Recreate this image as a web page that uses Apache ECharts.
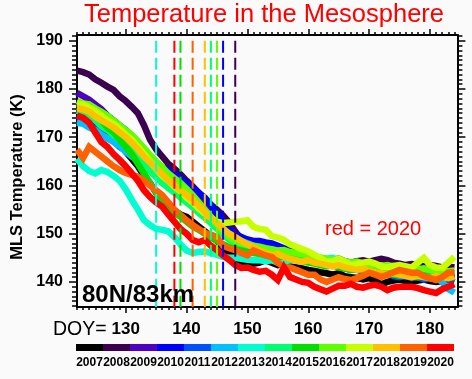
<!DOCTYPE html>
<html><head><meta charset="utf-8">
<script src="https://cdn.jsdelivr.net/npm/echarts@6/dist/echarts.min.js"></script>
<style>html,body{margin:0;padding:0;background:#fafafa}#c{width:472px;height:379px}</style>
</head><body><div id="c"></div>
<script>
// ---- data ----
const firstDOY = 122;
const years = ['2007','2008','2009','2010','2011','2012','2013','2014','2015','2016','2017','2018','2019','2020'];
const yearColors = ['#000000','#3c0050','#5000c0','#0000ff','#0050ff','#00c0ff','#00ffd0','#00ff70','#00e000','#60ff00','#c8ff00','#ffc000','#ff6000','#ff0000'];
const xTickLabels = [130,140,150,160,170,180];
const yTickLabels = [140,150,160,170,180,190];

const t2007 = [175,174.5,174,173,172,171,170,168.5,167,165.5, 164,162,160.5,158.5,156.5,155.2,154.8,154,153.5,152.5, 151.5,150.5,149.5,148.5,147,146,145,144.2,144,143.8, 144,144.5,144,143.5,143.8,143.2,143,142.8,142.5,142.3, 142,141.8,141.5,141.8,141.2,141,140.8,140.5,140.8,140.2, 139.5,140,140.3,140.5,140.2,140,140.3,140.5,140.2,140, 140.2,140.5,140.3];
const t2008 = [183.8,183.5,183,182,181.3,180.5,179.8,178.5,177.5,176.3, 175,172.5,169.5,167.5,166,164.5,163.5,162.3,161,159.8, 158.5,157,156,155,153.8,152.3,150.5,148.7,148.3,147.8, 147.3,146.8,146.5,146.3,146,145.8,146,145.5,145.2,145, 144.8,144.5,144.5,144.8,144.3,144,144.3,144.5,144.2,144.5, 144.8,144.5,144,143.8,143.5,143.7,143.5,143.2,143.5,143.3, 143,143.2,143];
const t2009 = [179.2,178.5,177.8,176.8,175.8,174.5,173.5,172.5,171.5,170.3, 169,167.5,166,164.8,163.8,163,162,160.8,159.8,158.5, 157,155.8,154.5,153,151.5,150.2,149.5,148.8,148.3,148, 147.5,147.2,147,146.8,146.5,146,145.8,145.5,145,144.8, 144.5,144.3,144,143.8,143.5,143.6,143.2,143,143.3,143, 142.8,142.5,142.8,142.5,142.3,142,142.3,142,141.8,142, 141.8,141.5,141.8];
const t2010 = [174.5,174,173.8,173,172.5,171.5,170.8,170,169,168, 167,166,164.5,164,163.6,163.2,162.5,161.5,160.5,159.5, 158.5,157.5,156,154.3,152.5,151,150,149.3,148.8,148.5, 148.5,148.2,148,147.5,147,146.5,146,145.5,145.2,144.8, 144.5,144,143.5,143.2,143,142.8,142.5,142.2,142,141.8, 141.5,141.8,141.5,141.2,141,141.3,141,140.8,141,140.8, 140.5,140.8,140.5];
const t2011 = [173.5,173.2,172.3,171.8,171,169.8,169.2,168,167.2,166.1, 165.2,163.8,163,162.3,161,160.2,159.3,158,157.2,156.2, 155,154.2,153,151.8,150.5,149.6,148.8,148.3,147.6,147.3, 147,146.5,146.8,146.2,145.8,145.5,145.7,145,144.8,144.5, 144.2,143.8,143.5,143,142.8,142.5,142.7,142.2,142,141.8, 141.5,141.8,141.2,141,141.3,140.8,141,140.5,140.8,140.5, 140.3,140.5,140];
const t2012 = [173,172.8,172,171.5,170.5,169.8,169,168.2,167,166, 165,164.2,163.2,162.5,161.5,160.3,159.5,158.3,157.5,156.5, 155.5,154.3,153.2,152,151,150,149.2,148.5,148,147.5, 147,146.6,146.2,146,145.5,145.2,145,144.5,144.3,144.5, 144,143.8,144,143.5,143.2,143,143.3,142.8,142.5,142.8, 142.5,142.2,142,141.8,141.5,141.8,141.3,141,141.2,140.8, 140,138.5,137.8];
const t2013 = [165.5,164,163,162.5,163.2,162.8,162,161,159.2,157, 155,152.8,151.8,151,150.8,150.5,149.3,147.8,146.5,146, 146.2,146.3,146,145.6,145.2,145,145,144.8,144.6,144.5, 144.5,144.3,144.5,144,144.2,144.5,144.8,145,145.2,145, 145,144.8,145,144.5,144.3,144,143.8,143.5,143.8,143.5, 143.2,143,143.3,143,142.8,142.5,142.8,142.5,142.3,142, 142.2,142,141.8];
const t2014 = [175.5,175,174.2,173.5,172.3,171.5,170.5,169.5,168.3,167, 165.8,164.5,163,161.8,160.5,159.5,158.5,157.5,156.5,155.5, 154.3,153.3,152.2,151,149.8,148.8,148,147.5,147,146.8, 146.5,146.3,146,145.8,145.5,145.5,145.2,145,144.8,144.5, 144.2,144,144.3,143.8,143.5,143.6,143.2,143,143.3,143, 142.8,142.5,142.8,142.5,142.3,142.5,142.2,142,142.3,142, 141.8,142,141.8];
const t2015 = [176.3,176,175.5,174.5,173.5,172,171,169.5,168,166.5, 164.5,162.5,160.5,158.5,156,154.5,154.3,153.5,152.5,151.5, 150.8,150,149.2,148.5,147.8,147.2,146.8,146.5,146.2,146, 145.8,145.5,145.2,145,145.3,144.8,144.5,144.3,144,143.8, 143.5,143.2,143.5,143,142.8,142.5,142.8,142.5,142.2,142, 141.8,142,141.5,141.3,141.5,141.2,141,141.3,141,140.8, 141,140.8,141];
const t2016 = [177.5,177,176.8,176,175.3,174.5,173.5,172.5,171.5,170.5, 169.2,167.8,166.3,165,163.8,162.5,161.5,160.5,159.3,158, 156.5,155,153.5,152,150.5,149.3,148.5,148,147.8,147.5, 147.3,147,146.8,146.5,146.6,146.2,146,145.8,145.5,145.3, 145,144.8,144.5,144.8,144.3,144,144.2,143.8,143.6,143.5, 143.3,143.5,143.2,143,143.2,142.8,142.6,142.8,142.5,142.3, 142.5,142.2,142.4];
const t2017 = [177,176.8,176.2,175.5,174.5,173.5,172.8,171.8,170.5,169.5, 168,166.5,165,163.5,162,161,159.8,158.8,157.5,156.5, 155.2,154.2,153.3,152.5,152.2,152.3,152.5,152.6,152.8,151.4, 151,150.8,149.5,149.2,148.7,147.8,147.3,146.8,146.3,145.6, 145,144.2,144.3,144.8,144.2,143.5,143.8,144,144.2,143.8, 143.2,143,143.3,143.5,143.2,143,144,145,143.5,143, 142.9,144,145.2];
const t2018 = [176,175.8,175.3,174.3,173.5,172.8,172,171,170,168.8, 167.5,166,164.8,163.5,162.3,161,160,159,158,157, 155.8,154.5,153.3,152.2,151,150,149.3,148.5,147.8,147.2, 146.5,146,145.6,145.8,145.2,144.8,144.5,144.2,144.5,144, 143.8,143.5,143.2,143.5,143,142.8,142.5,142.7,142.3,142, 141.8,141.5,141.8,141.5,141.2,141,141.3,141,140.8,141.2, 141,140.8,141.2];
const t2019 = [167.4,165.7,168,167,166,165,164,163.2,162.6,162.2, 161.8,161,160,159,158,156.5,155,153.9,152.8,151.8, 151,150.2,149.8,149.3,147.5,147,146.6,146,145.5,146.5, 146,145.5,145.2,144,143.1,143,142.5,142,141.5,141.5, 140.5,140,140.5,141,140.6,140.4,140.8,141.3,141.9,141.5, 141,141.5,142,142.5,142.2,141.9,141.9,141.2,140.8,140.4, 141,141.9,142];
const t2020 = [174.5,174,173,171,169,168,166.5,165.3,164,162.5, 161,159,157.6,156.5,155.6,154,152.5,151,150,148.7, 148.2,148.7,147.5,146.6,145.5,144.6,143.5,142.9,143,142.5, 142.1,142.3,141.5,140.4,143,141,140.5,140,139.8,139, 138.5,138,138.6,139.2,139.2,139.6,139,138.8,139.2,139.4, 139,138.3,138.8,139,139,139,138.7,138.3,138,137.7, 138.5,139,139.5];

// vertical dashed markers: year and DOY
const markerYears = ['2013','2020','2015','2019','2018','2014','2016','2010','2008'];
const markerDOY   = [135,138,139,141,143,144,145,146,148];

// ---- chart ----
const allSeries = [t2007,t2008,t2009,t2010,t2011,t2012,t2013,t2014,t2015,t2016,t2017,t2018,t2019,t2020];
const XMIN = 122, XMAX = 184.5, YMIN = 134.8, YMAX = 191.2;
const FONT = 'Liberation Sans, Arial, Helvetica, sans-serif';
const minorX = []; for (let d = 122; d <= 184; d++) minorX.push(d);
const minorY = []; for (let t = 135; t <= 191; t++) minorY.push(t);

const series = [];
allSeries.forEach((arr, k) => {
  series.push({
    type: 'line', xAxisIndex: 0, yAxisIndex: 0, name: years[k],
    data: arr.map((v, i) => [firstDOY + i, v]),
    showSymbol: false, symbol: 'none', silent: true,
    lineStyle: { color: yearColors[k], width: 6.5, join: 'miter' },
    z: 3 + k
  });
});
markerDOY.forEach((d, k) => {
  const ci = years.indexOf(markerYears[k]);
  series.push({
    type: 'line', xAxisIndex: 0, yAxisIndex: 0,
    data: [[d, 190], [d, YMIN]], showSymbol: false, symbol: 'none', silent: true,
    lineStyle: { color: yearColors[ci], width: 2, type: [12, 5] }, z: 30
  });
});
// colorbar as a bar series over a category axis of years
series.push({
  type: 'bar', xAxisIndex: 4, yAxisIndex: 4, barCategoryGap: 0, silent: true,
  data: years.map((y, k) => ({ value: 1, itemStyle: { color: yearColors[k] } }))
});

function xAx(pos, major, showLabel) {
  return {
    type: 'value', gridIndex: 0, position: pos, min: XMIN, max: XMAX,
    axisLine: { show: major, onZero: false, lineStyle: { color: '#000', width: 2 } },
    axisTick: { show: true, inside: false, length: major ? 6 : 3, customValues: major ? xTickLabels : minorX, lineStyle: { color: '#000', width: 1.5 } },
    axisLabel: { show: showLabel, customValues: xTickLabels, margin: 14, fontSize: 17, fontWeight: 'bold', color: '#000', fontFamily: FONT },
    splitLine: { show: false }
  };
}
function yAx(pos, major, showLabel) {
  return {
    type: 'value', gridIndex: 0, position: pos, min: YMIN, max: YMAX,
    axisLine: { show: major, onZero: false, lineStyle: { color: '#000', width: 2 } },
    axisTick: { show: true, inside: false, length: major ? 8 : 5, customValues: major ? yTickLabels : minorY, lineStyle: { color: '#000', width: 1.5 } },
    axisLabel: { show: showLabel, customValues: yTickLabels, margin: 14, fontSize: 16, fontWeight: 'bold', color: '#000', fontFamily: FONT },
    splitLine: { show: false }
  };
}

const option = {
  backgroundColor: '#fafafa',
  animation: false,
  grid: [
    { left: 77, top: 35, width: 380.4, height: 272, containLabel: false },
    { left: 76, top: 344, width: 378, height: 7, containLabel: false }
  ],
  xAxis: [
    xAx('bottom', true, true), xAx('bottom', false, false), xAx('top', true, false), xAx('top', false, false),
    { type: 'category', gridIndex: 1, data: years, axisLine: { show: false }, axisTick: { show: false },
      axisLabel: { interval: 0, margin: 6, fontSize: 12, fontWeight: 'bold', color: '#000', fontFamily: FONT } }
  ],
  yAxis: [
    yAx('left', true, true), yAx('left', false, false), yAx('right', true, false), yAx('right', false, false),
    { type: 'value', gridIndex: 1, min: 0, max: 1, show: false }
  ],
  graphic: [
    { type: 'text', x: 264, y: 15, style: { text: 'Temperature in the Mesosphere', fill: '#ff0000', font: '25.5px ' + FONT, textAlign: 'center', textVerticalAlign: 'middle' } },
    { type: 'text', x: 17, y: 177, rotation: Math.PI / 2, style: { text: 'MLS Temperature (K)', fill: '#000', font: 'bold 16.5px ' + FONT, textAlign: 'center', textVerticalAlign: 'middle' } },
    { type: 'text', x: 53, y: 330, style: { text: 'DOY=', fill: '#000', font: '19.5px ' + FONT, textVerticalAlign: 'middle' } },
    { type: 'text', x: 82, y: 295, z: 50, style: { text: '80N/83km', fill: '#000', font: 'bold 24px ' + FONT, textVerticalAlign: 'middle' } },
    { type: 'text', x: 325, y: 229, z: 50, style: { text: 'red = 2020', fill: '#ff0000', font: '20px ' + FONT, textVerticalAlign: 'middle' } }
  ],
  series: series
};
const chart = echarts.init(document.getElementById('c'), null, { renderer: 'canvas' });
chart.setOption(option);
</script></body></html>
